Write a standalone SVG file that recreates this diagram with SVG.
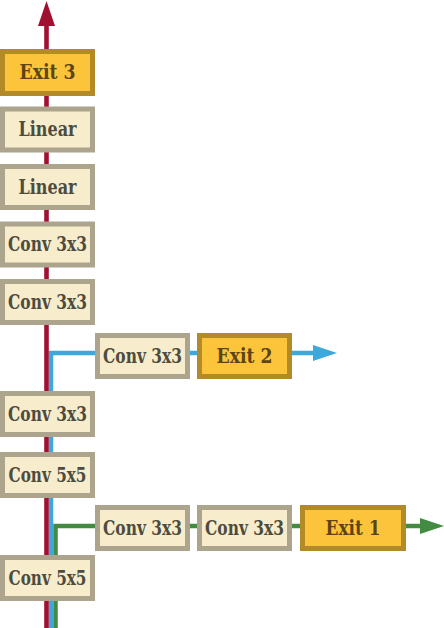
<svg xmlns="http://www.w3.org/2000/svg" width="444" height="628" viewBox="0 0 444 628">
<style>
.box rect{fill:#f7edcc;stroke:#aca48c;stroke-width:5}
.exit rect{fill:#fcc43a;stroke:#b28a27;stroke-width:5}
text{font-family:"DejaVu Serif","Liberation Serif",serif;font-weight:bold;font-size:19.5px;font-stretch:condensed;text-anchor:middle;fill:#4e4b3f}
.exit text{fill:#5c4413}
.red{stroke:#a01030;stroke-width:4.6;fill:none}
.blue{stroke:#3da8dc;stroke-width:4.5;fill:none}
.green{stroke:#458a43;stroke-width:4.5;fill:none}
</style>
<g id="connectors">
<path class="green" d="M55.5 628 V526 H420"/>
<polygon points="420,518 444,526 420,534" fill="#458a43"/>
<path class="blue" d="M51 628 V353 H313"/>
<polygon points="313,345 337,353 313,361" fill="#3da8dc"/>
<path class="red" d="M46.5 628 V24"/>
<polygon points="38,26 46.5,1 55,26" fill="#a01030"/>
</g>
<g id="exit3" class="exit"><rect x="2.5" y="51.5" width="90" height="42"/><text x="47.5" y="79" textLength="56" lengthAdjust="spacingAndGlyphs">Exit 3</text></g>
<g id="linear2" class="box"><rect x="2.5" y="109" width="90" height="41"/><text x="47.5" y="136" textLength="58" lengthAdjust="spacingAndGlyphs">Linear</text></g>
<g id="linear1" class="box"><rect x="2.5" y="166.5" width="90" height="41"/><text x="47.5" y="193.5" textLength="58" lengthAdjust="spacingAndGlyphs">Linear</text></g>
<g id="conv4" class="box"><rect x="2.5" y="224" width="90" height="41"/><text x="47.5" y="251" textLength="79" lengthAdjust="spacingAndGlyphs">Conv 3x3</text></g>
<g id="conv3" class="box"><rect x="2.5" y="281.5" width="90" height="41"/><text x="47.5" y="308.5" textLength="79" lengthAdjust="spacingAndGlyphs">Conv 3x3</text></g>
<g id="b2conv" class="box"><rect x="97.5" y="335.5" width="90" height="41"/><text x="142.5" y="362.5" textLength="79" lengthAdjust="spacingAndGlyphs">Conv 3x3</text></g>
<g id="exit2" class="exit"><rect x="199.5" y="335.5" width="90" height="41"/><text x="244.5" y="362.5" textLength="56" lengthAdjust="spacingAndGlyphs">Exit 2</text></g>
<g id="conv2" class="box"><rect x="2.5" y="393.5" width="90" height="41"/><text x="47.5" y="420.5" textLength="79" lengthAdjust="spacingAndGlyphs">Conv 3x3</text></g>
<g id="conv5b" class="box"><rect x="2.5" y="454.5" width="90" height="41"/><text x="47.5" y="481.5" textLength="78" lengthAdjust="spacingAndGlyphs">Conv 5x5</text></g>
<g id="b1conv1" class="box"><rect x="97.5" y="507.5" width="90" height="41"/><text x="142.5" y="534.5" textLength="79" lengthAdjust="spacingAndGlyphs">Conv 3x3</text></g>
<g id="b1conv2" class="box"><rect x="199.5" y="507.5" width="90" height="41"/><text x="244.5" y="534.5" textLength="79" lengthAdjust="spacingAndGlyphs">Conv 3x3</text></g>
<g id="exit1" class="exit"><rect x="302.5" y="507.5" width="101" height="41"/><text x="353" y="534.5" textLength="55" lengthAdjust="spacingAndGlyphs">Exit 1</text></g>
<g id="conv5a" class="box"><rect x="2.5" y="557.5" width="90" height="41"/><text x="47.5" y="584.5" textLength="78" lengthAdjust="spacingAndGlyphs">Conv 5x5</text></g>
</svg>
